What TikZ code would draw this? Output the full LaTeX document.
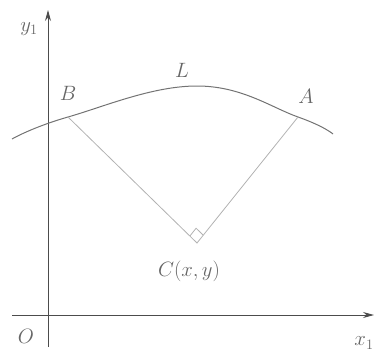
\documentclass[tikz,border=0pt]{standalone}
\usetikzlibrary{arrows.meta,calc}
\begin{document}
\begin{tikzpicture}[x=1pt,y=-1pt,
  axis/.style={draw=black!70,line width=0.9pt,-{Stealth[length=11pt,width=6pt]}},
  curve/.style={draw=black!55,line width=1pt},
  radius line/.style={draw=black!30,line width=0.8pt},
  lbl/.style={text=black!60,font=\fontsize{20}{22}\selectfont,inner sep=0pt}]
\useasboundingbox (0,0) rectangle (377,353);
% axes
\coordinate (xs) at (12,315);
\coordinate (xe) at (374,315);
\coordinate (ys) at (48,347);
\coordinate (ye) at (48,10);
\draw[axis] (xs) -- (xe);
\draw[axis] (ys) -- (ye);
% points
\coordinate (B) at (68,117);
\coordinate (A) at (298,117);
\coordinate (C) at (197,243);
% arc
\draw[curve] plot[smooth,tension=0.7] coordinates {(12,139) (68,117) (197,86) (298,117) (333,134)};
% radii
\draw[radius line] (B) -- (C) -- (A);
\coordinate (m1) at ($(C)!10pt!(B)$);
\coordinate (m2) at ($(C)!10pt!(A)$);
\coordinate (m3) at ($(m1)+(m2)-(C)$);
\draw[radius line] (m1) -- (m3) -- (m2);
% labels
\node[lbl] (lB) at (68,93) {$B$};
\node[lbl] (lA) at (306,96) {$A$};
\node[lbl] (lL) at (182,70) {$L$};
\node[lbl] (lC) at (189,271) {$C(x,y)$};
\node[lbl] (lO) at (26,336) {$O$};
\node[lbl] (ly) at (29,29) {$y_1$};
\node[lbl] (lx) at (364,343) {$x_1$};
\end{tikzpicture}
\end{document}
